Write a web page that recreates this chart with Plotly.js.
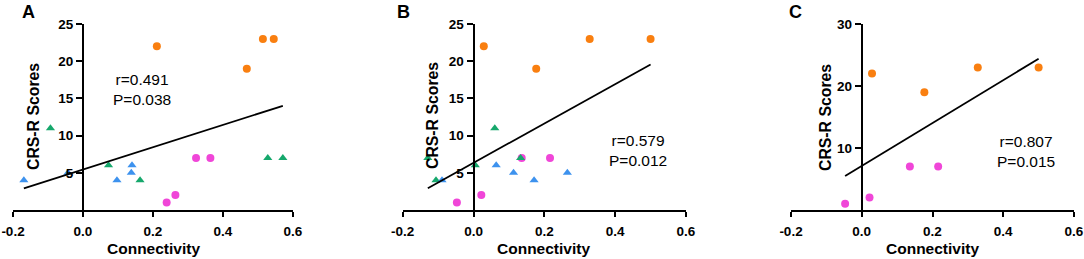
<!DOCTYPE html>
<html>
<head>
<meta charset="utf-8">
<script src="https://cdn.plot.ly/plotly-3.0.1.min.js"></script>
<style>html,body{margin:0;padding:0;background:#fff;}#chart{width:1084px;height:259px;}</style>
</head>
<body>
<div id="chart"></div>
<script>
// ---- Data ----
// Panel A
const A_orange_x = [0.211, 0.514, 0.545, 0.468];
const A_orange_y = [22, 23, 23, 19];
const A_magenta_x = [0.323, 0.364, 0.264, 0.239];
const A_magenta_y = [7, 7, 2, 1];
const A_green_x = [-0.093, 0.073, 0.163, 0.528, 0.571];
const A_green_y = [11, 6, 4, 7, 7];
const A_blue_x = [-0.169, -0.043, 0.097, 0.140, 0.138];
const A_blue_y = [4, 5, 4, 6, 5];
// Panel B
const B_orange_x = [0.029, 0.177, 0.328, 0.500];
const B_orange_y = [22, 19, 23, 23];
const B_magenta_x = [-0.047, 0.022, 0.136, 0.216];
const B_magenta_y = [1, 2, 7, 7];
const B_green_x = [-0.129, -0.106, 0.060, 0.005, 0.133];
const B_green_y = [7, 4, 11, 6, 7];
const B_blue_x = [-0.089, 0.064, 0.113, 0.171, 0.265];
const B_blue_y = [4, 6, 5, 4, 5];
// Panel C
const C_orange_x = [0.029, 0.177, 0.328, 0.500];
const C_orange_y = [22, 19, 23, 23];
const C_magenta_x = [-0.047, 0.022, 0.136, 0.216];
const C_magenta_y = [1, 2, 7, 7];

const panelLetters = ["A", "B", "C"];
const statsText = ["r=0.491<br>P=0.038", "r=0.579<br>P=0.012", "r=0.807<br>P=0.015"];
const xTickVals = [-0.2, 0, 0.2, 0.4, 0.6];
const xTickText = ["-0.2", "0.0", "0.2", "0.4", "0.6"];
const yTickValsAB = [5, 10, 15, 20, 25];
const yTickValsC = [10, 20, 30];
const xTitle = "Connectivity";
const yTitle = "CRS-R Scores";

// ---- Styles ----
const COL = {orange: "#F97F10", magenta: "#F046D8", green: "#16A86C", blue: "#3D92EE"};
const FONT = "Arial, 'Liberation Sans', sans-serif";
const W = 1084, H = 259;

function fit(xs, ys) {
  const n = xs.length;
  const mx = xs.reduce((a, b) => a + b, 0) / n;
  const my = ys.reduce((a, b) => a + b, 0) / n;
  let sxy = 0, sxx = 0;
  for (let i = 0; i < n; i++) { sxy += (xs[i] - mx) * (ys[i] - my); sxx += (xs[i] - mx) ** 2; }
  const b = sxy / sxx, a = my - b * mx;
  const x0 = Math.min(...xs), x1 = Math.max(...xs);
  return {x: [x0, x1], y: [a + b * x0, a + b * x1]};
}

function pts(x, y, color, symbol, xa, ya) {
  return {
    type: "scatter", mode: "markers", x: x, y: y, xaxis: xa, yaxis: ya,
    cliponaxis: false, hoverinfo: "skip", showlegend: false,
    marker: {color: color, size: symbol === "circle" ? 8 : 8, symbol: symbol, line: {width: 0}}
  };
}
function line(xs, ys, xa, ya) {
  const f = fit(xs, ys);
  return {type: "scatter", mode: "lines", x: f.x, y: f.y, xaxis: xa, yaxis: ya,
    showlegend: false, hoverinfo: "skip", line: {color: "#000", width: 1.8}};
}

const traces = [];
// A
traces.push(pts(A_orange_x, A_orange_y, COL.orange, "circle", "x", "y"));
traces.push(pts(A_magenta_x, A_magenta_y, COL.magenta, "circle", "x", "y"));
traces.push(pts(A_green_x, A_green_y, COL.green, "triangle-up", "x", "y"));
traces.push(pts(A_blue_x, A_blue_y, COL.blue, "triangle-up", "x", "y"));
traces.push(line(A_orange_x.concat(A_magenta_x, A_green_x, A_blue_x),
                 A_orange_y.concat(A_magenta_y, A_green_y, A_blue_y), "x", "y"));
// B
traces.push(pts(B_orange_x, B_orange_y, COL.orange, "circle", "x2", "y2"));
traces.push(pts(B_magenta_x, B_magenta_y, COL.magenta, "circle", "x2", "y2"));
traces.push(pts(B_green_x, B_green_y, COL.green, "triangle-up", "x2", "y2"));
traces.push(pts(B_blue_x, B_blue_y, COL.blue, "triangle-up", "x2", "y2"));
traces.push(line(B_orange_x.concat(B_magenta_x, B_green_x, B_blue_x),
                 B_orange_y.concat(B_magenta_y, B_green_y, B_blue_y), "x2", "y2"));
// C
traces.push(pts(C_orange_x, C_orange_y, COL.orange, "circle", "x3", "y3"));
traces.push(pts(C_magenta_x, C_magenta_y, COL.magenta, "circle", "x3", "y3"));
traces.push(line(C_orange_x.concat(C_magenta_x), C_orange_y.concat(C_magenta_y), "x3", "y3"));

// ---- Layout ----
const xDomains = [[13 / W, 293 / W], [402.7 / W, 686 / W], [791 / W, 1074 / W]];
const yDomain = [(H - 210) / H, (H - 24) / H];
const tickFont = {family: FONT, size: 13.5, color: "#000", weight: "bold"};

function xAxis(i) {
  return {
    domain: xDomains[i], anchor: i === 0 ? "y" : "y" + (i + 1), range: [-0.2, 0.6],
    tickvals: xTickVals, ticktext: xTickText, ticks: "outside", ticklen: 5, tickwidth: 2,
    tickcolor: "#000", showline: true, linewidth: 2, linecolor: "#000", showgrid: false,
    zeroline: false, tickfont: tickFont, ticklabelstandoff: 3, fixedrange: true
  };
}
function yAxis(i, range, tv) {
  const d = xDomains[i];
  return {
    domain: yDomain, anchor: "free", position: d[0] + (0 - (-0.2)) / 0.8 * (d[1] - d[0]),
    range: range, tickvals: tv, ticks: "outside", ticklen: 6, tickwidth: 2, tickcolor: "#000",
    showline: true, linewidth: 2, linecolor: "#000", showgrid: false, zeroline: false,
    tickfont: tickFont, fixedrange: true
  };
}

function ann(text, px, py, size, bold, angle) {
  return {text: text, x: px / W, y: 1 - py / H, xref: "paper", yref: "paper",
    xanchor: "center", yanchor: "middle", showarrow: false, textangle: angle || 0, align: "center",
    font: {family: FONT, size: size, color: "#000", weight: bold ? "bold" : "normal"}};
}

const annotations = [
  ann(panelLetters[0], 28, 12, 18, true), ann(panelLetters[1], 403, 12, 18, true), ann(panelLetters[2], 795, 12, 18, true),
  ann(yTitle, 33, 117, 15.8, true, -90), ann(yTitle, 432, 116, 15.8, true, -90), ann(yTitle, 825, 118, 15.8, true, -90),
  ann(xTitle, 153, 248, 15.5, true), ann(xTitle, 543, 248, 15.5, true), ann(xTitle, 932, 248, 15.5, true),
  ann(statsText[0], 142, 90, 15.5, false), ann(statsText[1], 638, 150, 15.5, false), ann(statsText[2], 1026, 151, 15.5, false)
];

const layout = {
  width: W, height: H, margin: {l: 0, r: 0, t: 0, b: 0},
  paper_bgcolor: "#fff", plot_bgcolor: "rgba(0,0,0,0)", showlegend: false,
  font: {family: FONT, color: "#000"},
  xaxis: xAxis(0), xaxis2: xAxis(1), xaxis3: xAxis(2),
  yaxis: yAxis(0, [0, 25], yTickValsAB), yaxis2: yAxis(1, [0, 25], yTickValsAB), yaxis3: yAxis(2, [0, 30], yTickValsC),
  annotations: annotations
};

Plotly.newPlot("chart", traces, layout, {displayModeBar: false, staticPlot: true});
</script>
</body>
</html>
